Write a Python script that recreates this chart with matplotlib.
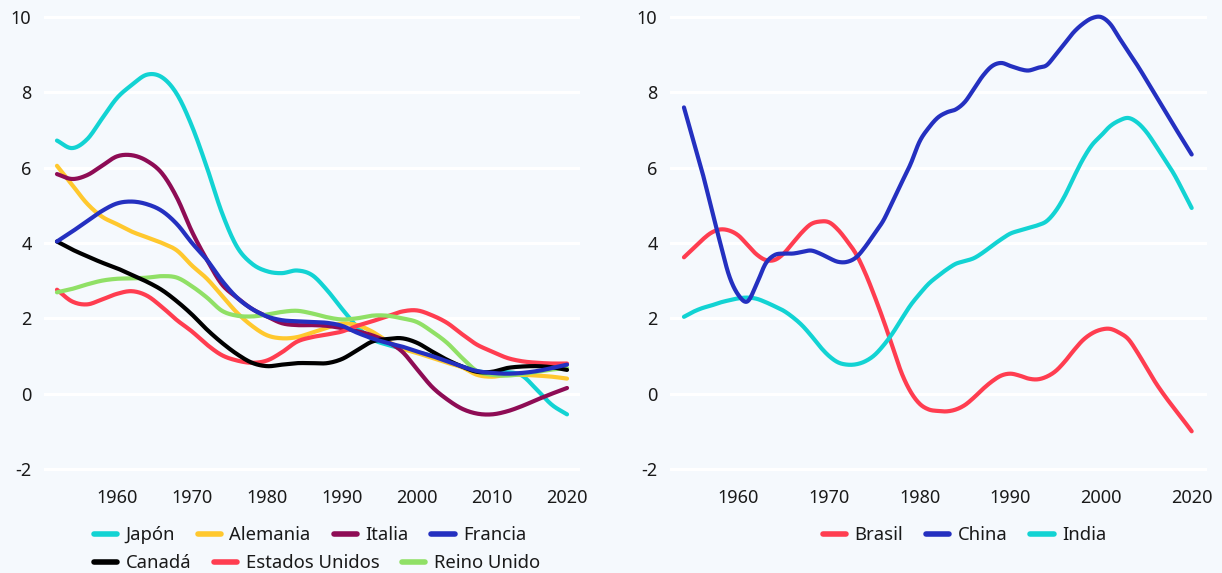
import numpy as np
import matplotlib
matplotlib.use('Agg')
import matplotlib.pyplot as plt
from matplotlib.lines import Line2D

plt.rcParams['font.family'] = ['Noto Sans', 'DejaVu Sans']
plt.rcParams['axes.unicode_minus'] = False

# ---------------- data ----------------
left_years = list(range(1952, 2021, 2))
japon = [6.72, 6.52, 6.75, 7.3, 7.85, 8.2, 8.47, 8.4, 7.95, 7.1, 6.0, 4.8, 3.9, 3.45, 3.25, 3.2, 3.27, 3.15,
         2.75, 2.25, 1.78, 1.45, 1.3, 1.2, 1.1, 1.0, 0.85, 0.72, 0.6, 0.55, 0.57, 0.48, 0.1, -0.3, -0.55]
alemania = [6.05, 5.55, 5.05, 4.7, 4.5, 4.3, 4.15, 4.0, 3.8, 3.4, 3.05, 2.6, 2.15, 1.8, 1.55, 1.47, 1.5, 1.62,
            1.75, 1.86, 1.82, 1.65, 1.4, 1.2, 1.08, 0.95, 0.82, 0.7, 0.5, 0.45, 0.5, 0.5, 0.48, 0.45, 0.4]
italia = [5.83, 5.7, 5.8, 6.05, 6.3, 6.33, 6.18, 5.85, 5.2, 4.3, 3.55, 2.9, 2.55, 2.25, 2.05, 1.87, 1.82, 1.82,
          1.8, 1.74, 1.66, 1.55, 1.38, 1.12, 0.65, 0.18, -0.15, -0.4, -0.53, -0.55, -0.47, -0.33, -0.16, 0.0, 0.15]
francia = [4.04, 4.3, 4.58, 4.85, 5.05, 5.1, 5.03, 4.85, 4.5, 4.0, 3.55, 3.0, 2.55, 2.25, 2.05, 1.95, 1.92, 1.9,
           1.88, 1.8, 1.62, 1.47, 1.35, 1.25, 1.12, 1.0, 0.86, 0.72, 0.6, 0.55, 0.53, 0.55, 0.6, 0.68, 0.77]
canada = [4.04, 3.83, 3.65, 3.48, 3.33, 3.15, 2.97, 2.75, 2.45, 2.1, 1.7, 1.35, 1.05, 0.82, 0.73, 0.77, 0.81, 0.81,
          0.81, 0.92, 1.15, 1.38, 1.45, 1.47, 1.35, 1.12, 0.9, 0.72, 0.58, 0.58, 0.68, 0.72, 0.73, 0.7, 0.63]
estados_unidos = [2.76, 2.45, 2.37, 2.5, 2.65, 2.72, 2.6, 2.3, 1.95, 1.65, 1.3, 1.02, 0.88, 0.82, 0.88, 1.1, 1.38,
                  1.5, 1.57, 1.65, 1.8, 1.92, 2.05, 2.18, 2.21, 2.08, 1.88, 1.58, 1.3, 1.12, 0.95, 0.86, 0.82, 0.8, 0.8]
reino_unido = [2.69, 2.78, 2.9, 3.0, 3.05, 3.06, 3.08, 3.12, 3.08, 2.85, 2.55, 2.2, 2.07, 2.05, 2.1, 2.17, 2.2,
               2.13, 2.03, 1.97, 2.0, 2.07, 2.07, 2.0, 1.9, 1.65, 1.35, 0.95, 0.6, 0.5, 0.48, 0.52, 0.58, 0.64, 0.68]

right_years = list(range(1954, 2001)) + list(range(2002, 2021, 2))
brasil = [3.62, 3.85, 4.08, 4.27, 4.36, 4.33, 4.2, 3.95, 3.7, 3.55, 3.55, 3.72, 4.0, 4.28, 4.5, 4.57, 4.55, 4.35,
          4.05, 3.7, 3.2, 2.6, 1.95, 1.25, 0.55, 0.05, -0.27, -0.42, -0.46, -0.47, -0.42, -0.3, -0.1, 0.13, 0.33,
          0.48, 0.53, 0.48, 0.4, 0.38, 0.45, 0.6, 0.85, 1.15, 1.42, 1.6, 1.7,
          1.72, 1.62, 1.45, 1.1, 0.7, 0.3, -0.05, -0.37, -0.68, -1.0]
china = [7.6, 6.75, 5.9, 4.95, 4.0, 3.12, 2.62, 2.45, 2.9, 3.45, 3.68, 3.72, 3.72, 3.76, 3.8, 3.72, 3.6, 3.5,
         3.5, 3.62, 3.9, 4.25, 4.6, 5.1, 5.6, 6.1, 6.7, 7.06, 7.33, 7.47, 7.55, 7.75, 8.1, 8.45, 8.7, 8.78, 8.7,
         8.62, 8.58, 8.65, 8.72, 9.0, 9.3, 9.6, 9.82, 9.97, 10.0,
         9.82, 9.45, 9.08, 8.72, 8.33, 7.93, 7.53, 7.13, 6.74, 6.35]
india = [2.04, 2.17, 2.27, 2.34, 2.42, 2.48, 2.53, 2.55, 2.52, 2.43, 2.32, 2.2, 2.03, 1.82, 1.55, 1.25, 1.0, 0.83,
         0.77, 0.78, 0.86, 1.02, 1.28, 1.6, 1.98, 2.35, 2.65, 2.92, 3.12, 3.3, 3.45, 3.52, 3.6, 3.75, 3.93, 4.1,
         4.25, 4.33, 4.4, 4.47, 4.58, 4.85, 5.25, 5.75, 6.22, 6.6, 6.85,
         7.1, 7.25, 7.32, 7.2, 6.95, 6.6, 6.22, 5.85, 5.4, 4.93]

left_names = ['Japón', 'Alemania', 'Italia', 'Francia', 'Canadá', 'Estados Unidos', 'Reino Unido']
right_names = ['Brasil', 'China', 'India']
left_xticks = [1960, 1970, 1980, 1990, 2000, 2010, 2020]
right_xticks = [1960, 1970, 1980, 1990, 2000, 2020]
yticks = [-2, 0, 2, 4, 6, 8, 10]

# ---------------- style ----------------
BG = '#F5F9FD'
CYAN = '#12D3D3'
YELLOW = '#FFC82E'
MAROON = '#8E0C55'
BLUE = '#2430C0'
BLACK = '#000000'
RED = '#FF3D50'
GREEN = '#90E066'
TXT = '#1a1a1a'
W, H = 1222, 573


def catmull(u, y, n=16):
    u = np.asarray(u, float)
    y = np.asarray(y, float)
    P = np.column_stack([u, y])
    P = np.vstack([P[0] * 2 - P[1], P, P[-1] * 2 - P[-2]])
    out = []
    t = np.linspace(0, 1, n, endpoint=False)[:, None]
    for i in range(1, len(P) - 2):
        p0, p1, p2, p3 = P[i - 1], P[i], P[i + 1], P[i + 2]
        seg = 0.5 * ((2 * p1) + (-p0 + p2) * t + (2 * p0 - 5 * p1 + 4 * p2 - p3) * t ** 2
                     + (-p0 + 3 * p1 - 3 * p2 + p3) * t ** 3)
        out.append(seg)
    out.append(P[-2][None, :])
    out = np.vstack(out)
    return out[:, 0], out[:, 1]


def fwd(x):
    x = np.asarray(x, float)
    return np.where(x <= 2000, x, 2000 + (x - 2000) / 2.0)


def inv(u):
    u = np.asarray(u, float)
    return np.where(u <= 2000, u, 2000 + (u - 2000) * 2.0)


fig = plt.figure(figsize=(W / 100, H / 100), dpi=100, facecolor=BG)

bottom = 1 - 476.5 / H
top = 1 - 9.5 / H
axL = fig.add_axes([44 / W, bottom, (580 - 44) / W, top - bottom])
axR = fig.add_axes([670 / W, bottom, (1207 - 670) / W, top - bottom])

for ax in (axL, axR):
    ax.set_facecolor(BG)
    for s in ax.spines.values():
        s.set_visible(False)
    ax.set_ylim(-2.2, 10.2)
    ax.set_yticks(yticks)
    ax.set_yticklabels([str(v) for v in yticks])
    ax.grid(axis='y', color='white', linewidth=2.2, zorder=0)
    ax.grid(axis='x', visible=False)
    ax.tick_params(axis='both', length=0, labelsize=13, labelcolor=TXT)
    ax.tick_params(axis='y', pad=9)
    ax.tick_params(axis='x', pad=9)
    ax.set_axisbelow(True)

# left panel
left_series = [japon, alemania, italia, francia, canada, estados_unidos, reino_unido]
left_colors = [CYAN, YELLOW, MAROON, BLUE, BLACK, RED, GREEN]
left_z = [3, 3, 3, 6, 4, 3, 3]
for vals, c, z in zip(left_series, left_colors, left_z):
    xs, ys = catmull(left_years, vals)
    axL.plot(xs, ys, color=c, lw=3.0, solid_capstyle='round', solid_joinstyle='round', zorder=z)
axL.set_xlim(1950.27, 2021.73)
axL.set_xticks(left_xticks)
axL.set_xticklabels([str(v) for v in left_xticks])

# right panel
axR.set_xscale('function', functions=(fwd, inv))
right_series = [brasil, china, india]
right_colors = [RED, BLUE, CYAN]
right_z = [3, 5, 4]
for vals, c, z in zip(right_series, right_colors, right_z):
    us, ys = catmull(fwd(right_years), vals)
    axR.plot(inv(us), ys, color=c, lw=3.0, solid_capstyle='round', solid_joinstyle='round', zorder=z)
axR.set_xlim(float(inv(1952.46)), float(inv(2011.69)))
axR.set_xticks(right_xticks)
axR.set_xticklabels([str(v) for v in right_xticks])
axR.xaxis.set_minor_locator(matplotlib.ticker.NullLocator())


def handle(c):
    return Line2D([], [], color=c, lw=4.0, solid_capstyle='round')


leg_kw = dict(frameon=False, loc='center left', borderpad=0, borderaxespad=0, fontsize=13.3,
              handlelength=1.25, handletextpad=0.45, columnspacing=1.25, labelcolor=TXT)

fig.legend([handle(c) for c in left_colors[:4]], left_names[:4], ncol=4,
           bbox_to_anchor=(94 / W, 1 - 535 / H), **leg_kw)
fig.legend([handle(c) for c in left_colors[4:]], left_names[4:], ncol=3,
           bbox_to_anchor=(94 / W, 1 - 563 / H), **leg_kw)
fig.legend([handle(c) for c in right_colors], right_names, ncol=3,
           bbox_to_anchor=(823 / W, 1 - 535 / H), **leg_kw)

fig.savefig('out.png', dpi=100, facecolor=BG)
